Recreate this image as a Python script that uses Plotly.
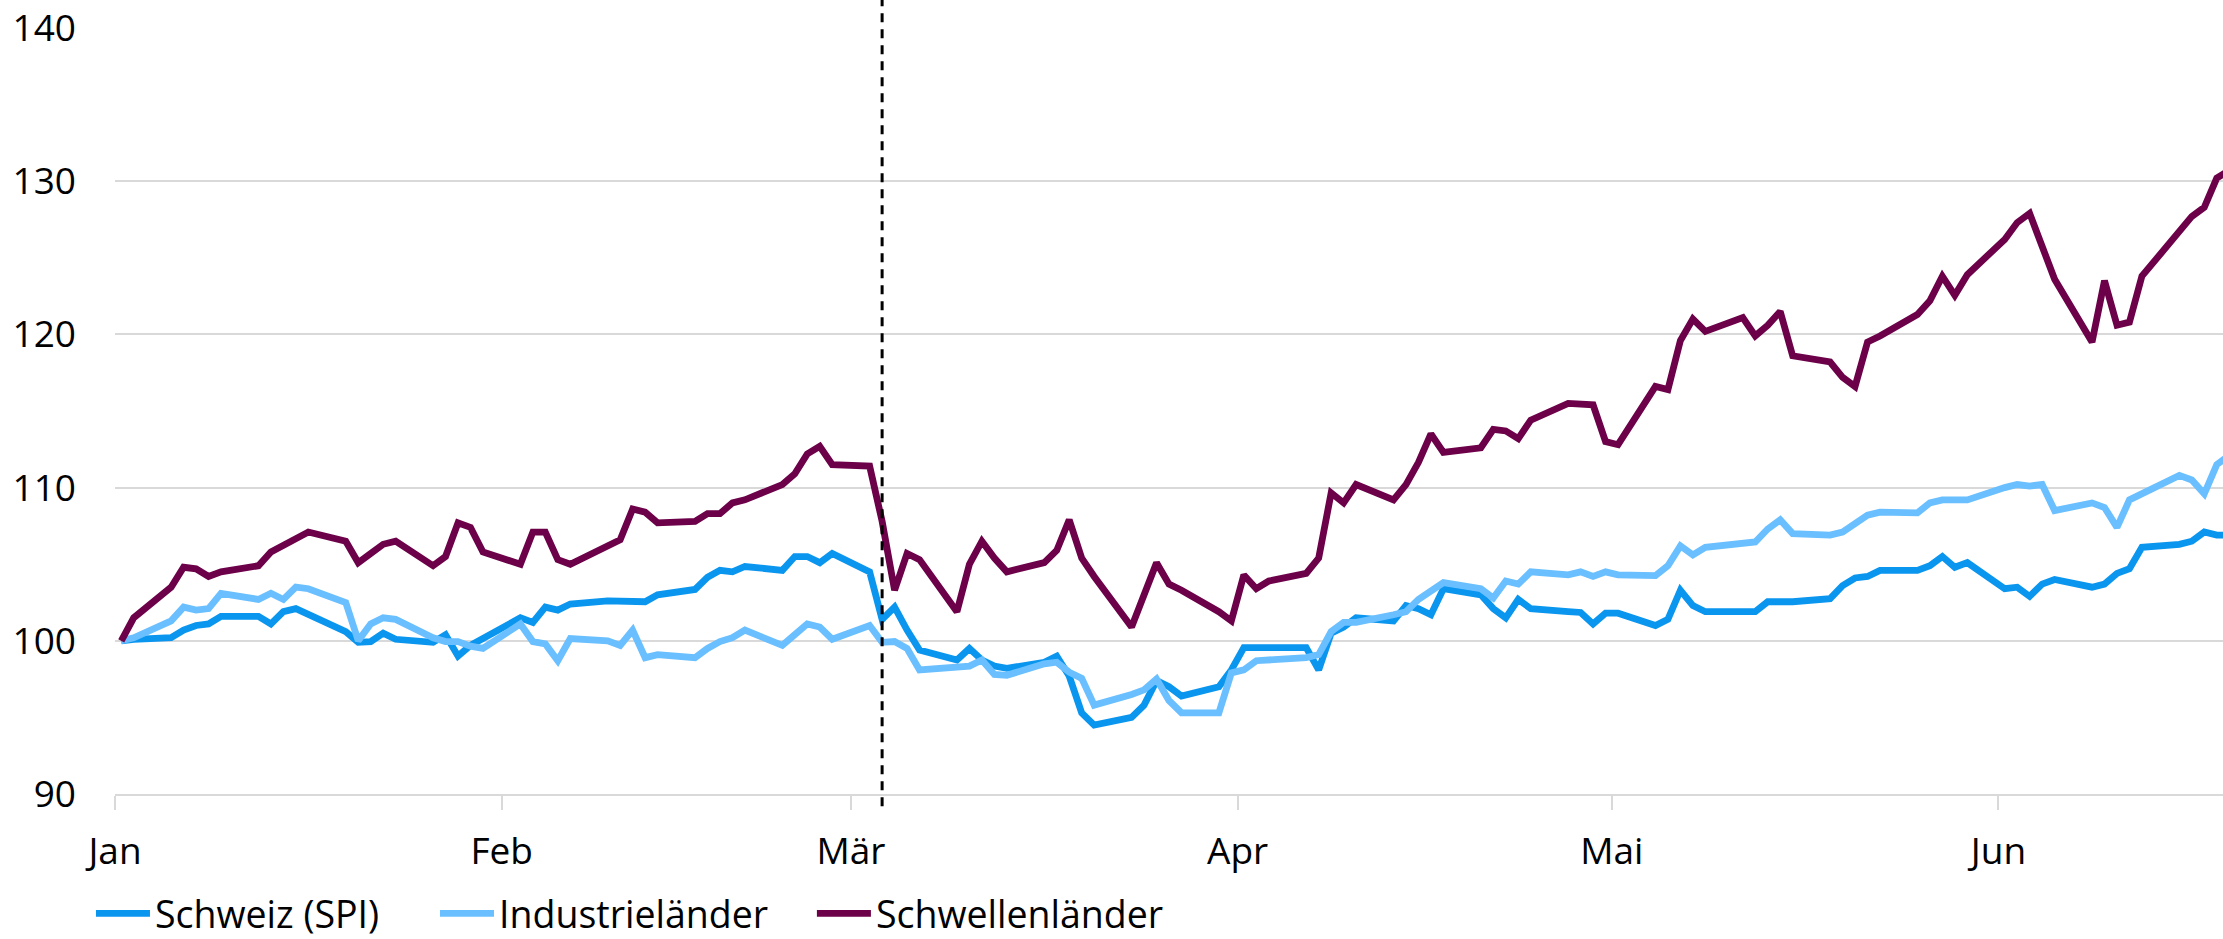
import pandas as pd
import plotly.graph_objects as go

# Business days (first value = base 100 on 1 Jan)
DATES = pd.bdate_range("2015-01-01", "2015-06-19").strftime("%Y-%m-%d").tolist()
EVENT_DATE = "2015-03-03"

SCHWEIZ = [
    100, 100.1,
    100.2, 100.7, 101.0, 101.1, 101.6,
    101.6, 101.1, 101.9, 102.1, 101.7,
    100.6, 99.9, 99.95, 100.5, 100.1,
    99.9, 100.4, 99.0, 99.7, 100.15,
    101.5, 101.2, 102.2, 102.0, 102.4,
    102.6, 102.6, 102.55, 102.55, 103.0,
    103.35, 104.15, 104.6, 104.5, 104.85,
    104.6, 105.5, 105.5, 105.1, 105.7,
    104.5, 101.4, 102.2, 100.7, 99.4,
    98.75, 99.5, 98.75, 98.35, 98.2,
    98.6, 99.0, 97.7, 95.3, 94.5,
    95.0, 95.8, 97.4, 97.0, 96.4,
    97.0, 98.1, 99.55, 99.55, 99.55,
    99.55, 98.1, 100.5, 100.9, 101.5,
    101.3, 102.3, 102.1, 101.7, 103.4,
    103.0, 102.1, 101.5, 102.7, 102.1,
    101.9, 101.85, 101.1, 101.8, 101.8,
    101.0, 101.4, 103.3, 102.3, 101.9,
    101.9, 101.9, 102.55, 102.55, 102.55,
    102.75, 103.6, 104.1, 104.2, 104.6,
    104.6, 104.9, 105.5, 104.8, 105.1,
    103.4, 103.5, 102.9, 103.7, 104.0,
    103.5, 103.7, 104.4, 104.7, 106.1,
    106.3, 106.5, 107.1, 106.9, 106.9,
]

INDUSTRIE = [
    100, 100.2,
    101.3, 102.2, 102.0, 102.1, 103.1,
    102.7, 103.1, 102.7, 103.5, 103.4,
    102.5, 100.0, 101.1, 101.5, 101.4,
    100.2, 99.95, 99.95, 99.65, 99.5,
    101.1, 99.95, 99.8, 98.7, 100.15,
    100.0, 99.7, 100.7, 98.9, 99.1,
    98.9, 99.5, 99.95, 100.2, 100.7,
    99.7, 100.4, 101.1, 100.9, 100.1,
    101.0, 99.9, 99.95, 99.5, 98.1,
    98.3, 98.35, 98.75, 97.8, 97.75,
    98.5, 98.6, 97.95, 97.55, 95.8,
    96.5, 96.8, 97.5, 96.1, 95.3,
    95.3, 97.9, 98.1, 98.7, 98.75,
    98.9, 99.1, 100.6, 101.2, 101.2,
    101.7, 101.9, 102.7, 103.3, 103.8,
    103.4, 102.8, 103.9, 103.7, 104.5,
    104.3, 104.5, 104.2, 104.5, 104.3,
    104.25, 104.9, 106.2, 105.6, 106.1,
    106.3, 106.45, 107.3, 107.9, 107.0,
    106.9, 107.1, 107.7, 108.2, 108.4,
    108.35, 109.0, 109.2, 109.2, 109.2,
    110.0, 110.2, 110.1, 110.2, 108.5,
    109.0, 108.7, 107.4, 109.2, 109.6,
    110.8, 110.5, 109.6, 111.5, 112.1,
]

SCHWELLEN = [
    100, 101.5,
    103.5, 104.8, 104.7, 104.2, 104.5,
    104.9, 105.8, 106.2, 106.7, 107.1,
    106.5, 105.1, 105.7, 106.3, 106.5,
    104.9, 105.5, 107.7, 107.4, 105.8,
    105.0, 107.1, 107.1, 105.3, 105.0,
    106.2, 106.6, 108.6, 108.4, 107.7,
    107.8, 108.3, 108.3, 109.0, 109.2,
    110.2, 110.9, 112.2, 112.7, 111.5,
    111.4, 107.8, 103.3, 105.7, 105.3,
    101.9, 105.0, 106.5, 105.4, 104.5,
    105.1, 105.9, 107.9, 105.4, 104.2,
    100.9, 102.9, 105.1, 103.7, 103.3,
    101.9, 101.3, 104.3, 103.4, 103.9,
    104.4, 105.4, 109.65, 109.0, 110.2,
    109.2, 110.2, 111.65, 113.5, 112.3,
    112.6, 113.8, 113.7, 113.2, 114.4,
    115.5, 115.4, 115.4, 113.0, 112.8,
    116.6, 116.4, 119.6, 121.0, 120.2,
    121.1, 119.9, 120.6, 121.5, 118.6,
    118.2, 117.2, 116.6, 119.5, 119.9,
    121.3, 122.2, 123.8, 122.55, 123.9,
    126.2, 127.3, 127.9, 125.6, 123.6,
    119.5, 123.5, 120.6, 120.8, 123.8,
    126.8, 127.7, 128.3, 130.2, 130.7,
]

SERIES_NAMES = ["Schweiz (SPI)", "Industrieländer", "Schwellenländer"]
SERIES_COLORS = ["#0a95ef", "#69bfff", "#6c0049"]

MONTH_TICKS = ["2015-01-01", "2015-02-01", "2015-03-01", "2015-04-01", "2015-05-01", "2015-06-01"]
MONTH_LABELS = ["Jan", "Feb", "Mär", "Apr", "Mai", "Jun"]

# points plotted at the middle of each day
x = pd.to_datetime(DATES) + pd.Timedelta(hours=12)

LEGEND_IDS = ["legend", "legend2", "legend3"]
fig = go.Figure()
for name, vals, col, lg in zip(SERIES_NAMES, [SCHWEIZ, INDUSTRIE, SCHWELLEN], SERIES_COLORS, LEGEND_IDS):
    fig.add_trace(go.Scatter(x=x, y=vals, name=name, mode="lines", legend=lg,
                             line=dict(color=col, width=6.8)))

event_x = pd.Timestamp(EVENT_DATE) + pd.Timedelta(hours=12)
fig.add_shape(type="line", xref="x", yref="paper", x0=event_x, x1=event_x,
              y0=-0.016, y1=1.037, line=dict(color="black", width=3, dash="9px,7px"))

GRID = "#d9d9d9"
legend_common = dict(orientation="h", xanchor="left", y=-0.156, yanchor="middle",
                     font=dict(size=37.5, color="black"), itemwidth=54,
                     bgcolor="rgba(0,0,0,0)")
fig.update_layout(
    width=2223, height=939,
    margin=dict(l=115, r=0, t=28, b=145, autoexpand=False),
    paper_bgcolor="white", plot_bgcolor="white",
    font=dict(family="Open Sans", size=37, color="black"),
    showlegend=True,
    legend=dict(x=-0.0114, **legend_common),
    legend2=dict(x=0.1518, **legend_common),
    legend3=dict(x=0.3306, **legend_common),
    xaxis=dict(type="date", range=["2015-01-01", "2015-06-19"],
               tickvals=MONTH_TICKS, ticktext=MONTH_LABELS,
               ticks="outside", ticklen=14, tickwidth=2, tickcolor=GRID,
               showline=True, linecolor=GRID, linewidth=2, showgrid=False,
               zeroline=False, ticklabelstandoff=10),
    yaxis=dict(range=[90, 140], dtick=10, tick0=90, showgrid=True, gridcolor=GRID,
               gridwidth=2, zeroline=False, showline=False, ticks="",
               ticklabelstandoff=38),
)

fig.write_html("out.html", config={"displayModeBar": False},
               post_script="document.body.style.margin='0';")
